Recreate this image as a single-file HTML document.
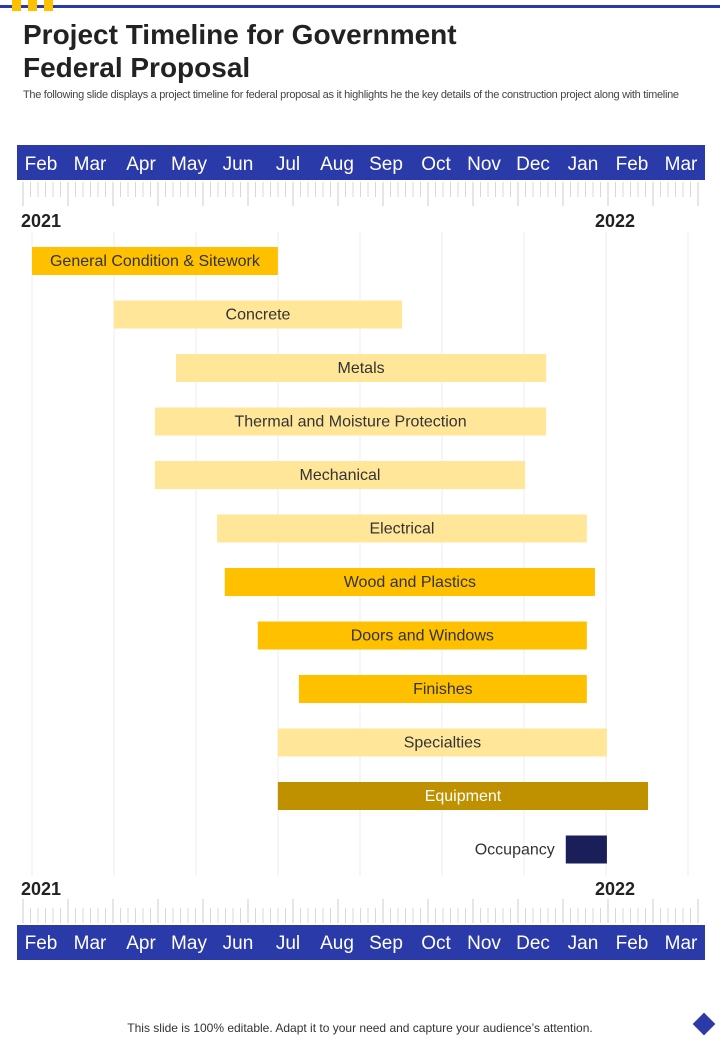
<!DOCTYPE html>
<html><head><meta charset="utf-8"><style>
body{margin:0;width:720px;height:1040px;background:#fff;font-family:"Liberation Sans",sans-serif;position:relative;overflow:hidden}
.abs{position:absolute}
</style></head><body>
<div class="abs" style="left:0;top:5px;width:720px;height:3px;background:#2a3aa8"></div>
<div class="abs" style="left:12px;top:0;width:9px;height:11px;background:#ffc000"></div>
<div class="abs" style="left:28px;top:0;width:9px;height:11px;background:#ffc000"></div>
<div class="abs" style="left:44px;top:0;width:9px;height:11px;background:#ffc000"></div>
<div class="abs" style="left:23px;top:18px;font-size:28px;font-weight:bold;line-height:33px;color:#222">Project Timeline for Government<br>Federal Proposal</div>
<div class="abs" style="left:23px;top:88px;width:680px;font-size:11px;line-height:14px;color:#444;letter-spacing:-0.3px">The following slide displays a project timeline for federal proposal as it highlights he the key details of the construction project along with timeline</div>
<svg class="abs" style="left:0;top:0" width="720" height="1040" id="chart"></svg>
<div class="abs" style="left:0;width:720px;top:1021px;text-align:center;font-size:12px;color:#333">This slide is 100% editable. Adapt it to your need and capture your audience’s attention.</div>
<div class="abs" style="left:696px;top:1016px;width:16px;height:16px;background:#2a3aa8;transform:rotate(45deg)"></div>
<script>
const months=["Feb","Mar","Apr","May","Jun","Jul","Aug","Sep","Oct","Nov","Dec","Jan","Feb","Mar"];
const monthX=[41,90,141,189,238,288,337,386,436,484,533,583,632,681];
const tasks=["General Condition & Sitework","Concrete","Metals","Thermal and Moisture Protection","Mechanical","Electrical","Wood and Plastics","Doors and Windows","Finishes","Specialties","Equipment","Occupancy"];
const starts=[0,1.71,3.01,2.57,2.57,3.87,4.03,4.72,5.58,5.14,5.14,11.16];
const ends=[5.14,7.74,10.75,10.75,10.31,11.6,11.77,11.6,11.6,12.02,12.88,12.02];
const kinds=["dark","light","light","light","light","light","dark","dark","dark","light","gold","navy"];
const years=["2021","2022"];
const yearMonth=[0,12];
const NS="http://www.w3.org/2000/svg";
const svg=document.getElementById('chart');
const X=m=>32+m*47.83;
const rowY=i=>247+i*53.5;
const colors={dark:"#ffc000",light:"#ffe699",gold:"#bf9000",navy:"#1a1f5a"};
function mk(t,a){const e=document.createElementNS(NS,t);for(const k in a)e.setAttribute(k,a[k]);svg.appendChild(e);return e;}
// gridlines
for(let k=0;k<=8;k++){
 const g=mk('line',{x1:32+82*k,x2:32+82*k,y1:232,y2:876,stroke:"#eeeeee","stroke-width":1});
 
 
}
function monthBar(y,ty,tickY1,dir,nm){
 const r=mk('rect',{x:17,y:y,width:688,height:35,fill:"#2a3aa8"});
 
 
 months.forEach((m,i)=>{const t=mk('text',{x:monthX[i],y:ty,"text-anchor":"middle","font-size":19,fill:"#fff","font-family":"Liberation Sans, sans-serif"});t.textContent=m;
 
 });
 for(let i=0;i<=93;i++){const x=23+i*7.5;if(x>703)break;const major=i%6===0;
  const l=mk('line',{x1:x,x2:x,y1:dir>0?tickY1:tickY1-(major?24:15),y2:dir>0?tickY1+(major?24:15):tickY1,stroke:major?"#cccccc":"#d8d8d8","stroke-width":1});
  
  }
}
monthBar(145,170,182,1,'month-bar-top');
monthBar(925,949,923,-1,'month-bar-bottom');
[[227],[895]].forEach(([yy],j)=>{years.forEach((y,i)=>{const t=mk('text',{x:X(yearMonth[i])-11,y:yy,"font-size":18,"font-weight":"bold",fill:"#222","font-family":"Liberation Sans, sans-serif"});t.textContent=y;
 
 });});
tasks.forEach((n,i)=>{
 const x1=X(starts[i]),x2=X(ends[i]),y=rowY(i);
 const r=mk('rect',{x:x1,y:y,width:x2-x1,height:28,fill:colors[kinds[i]]});
 
 
 const navy=kinds[i]==="navy";
 const t=mk('text',{x:navy?x1-11:(x1+x2)/2,y:y+19,"text-anchor":navy?"end":"middle","font-size":16,fill:kinds[i]==="gold"?"#fff":"#333","font-family":"Liberation Sans, sans-serif"});
 t.textContent=n;
 
 
});
</script>
</body></html>
